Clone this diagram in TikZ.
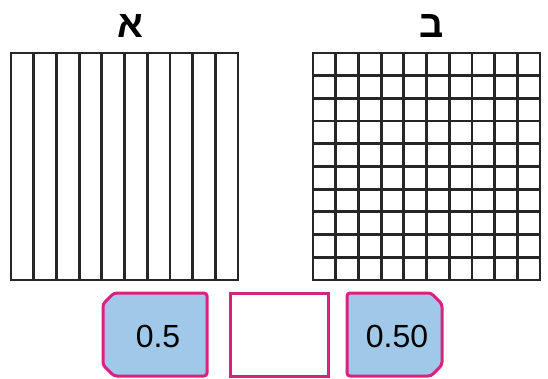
\documentclass[tikz,border=0pt]{standalone}
\usepackage{fontspec}
\setmainfont{Liberation Sans}
\newfontfamily\hebfont[Script=Hebrew]{Liberation Sans}
\TeXXeTstate=1
\definecolor{boxblue}{RGB}{160,200,232}
\definecolor{boxpink}{RGB}{214,35,127}
\tikzset{
  gridline/.style={line width=2.8pt,black!85},
  cardline/.style={line width=3pt,draw=boxpink,rounded corners=3pt},
  cardtext/.style={font=\fontsize{32}{32}\selectfont,inner sep=0pt},
  letter/.style={font=\hebfont\bfseries\fontsize{38}{38}\selectfont,inner sep=0pt}
}
\begin{document}
\begin{tikzpicture}[x=1pt,y=-1pt]
        % =========================================================
        % Bildrahmen: 548 x 379 (Pixel)
        % =========================================================
        \useasboundingbox (0,0) rectangle (548,379);

        % ---------------------------------------------------------
        % Ueberschriften
        % ---------------------------------------------------------
        \node[letter] (alef) at (130,26) {\beginR א\endR};
        \node[letter] (bet)  at (432,26) {\beginR ב\endR};

        % ---------------------------------------------------------
        % Linkes Quadrat: 10 Streifen
        % ---------------------------------------------------------
        \foreach \i in {1,...,9}
          \draw[gridline] (11+22.7*\i,53) -- (11+22.7*\i,280);
        \draw[gridline] (11,53) rectangle (238,280);

        % ---------------------------------------------------------
        % Rechtes Quadrat: 10 x 10 Felder
        % ---------------------------------------------------------
        \foreach \i in {1,...,9} {
          \draw[gridline] (313+22.7*\i,53) -- (313+22.7*\i,280);
          \draw[gridline] (313,53+22.7*\i) -- (540,53+22.7*\i);
        }
        \draw[gridline] (313,53) rectangle (540,280);

        % ---------------------------------------------------------
        % Karten unten
        % ---------------------------------------------------------

        % links (Ecken links abgeschraegt)
        \filldraw[cardline,fill=boxblue]
          (114,293) -- (207,293) -- (207,376) -- (114,376)
          -- (103,365) -- (103,304) -- cycle;
        \node[cardtext] (halb) at (158,336) {0.5};

        % Mitte (leer)
        \draw[cardline,rounded corners=0pt] (230,293) rectangle (328,376);

        % rechts (Ecken rechts abgeschraegt)
        \filldraw[cardline,fill=boxblue]
          (347,293) -- (431,293) -- (442,304) -- (442,365)
          -- (431,376) -- (347,376) -- cycle;
        \node[cardtext] (halbzwei) at (397,336) {0.50};

\end{tikzpicture}
\end{document}
